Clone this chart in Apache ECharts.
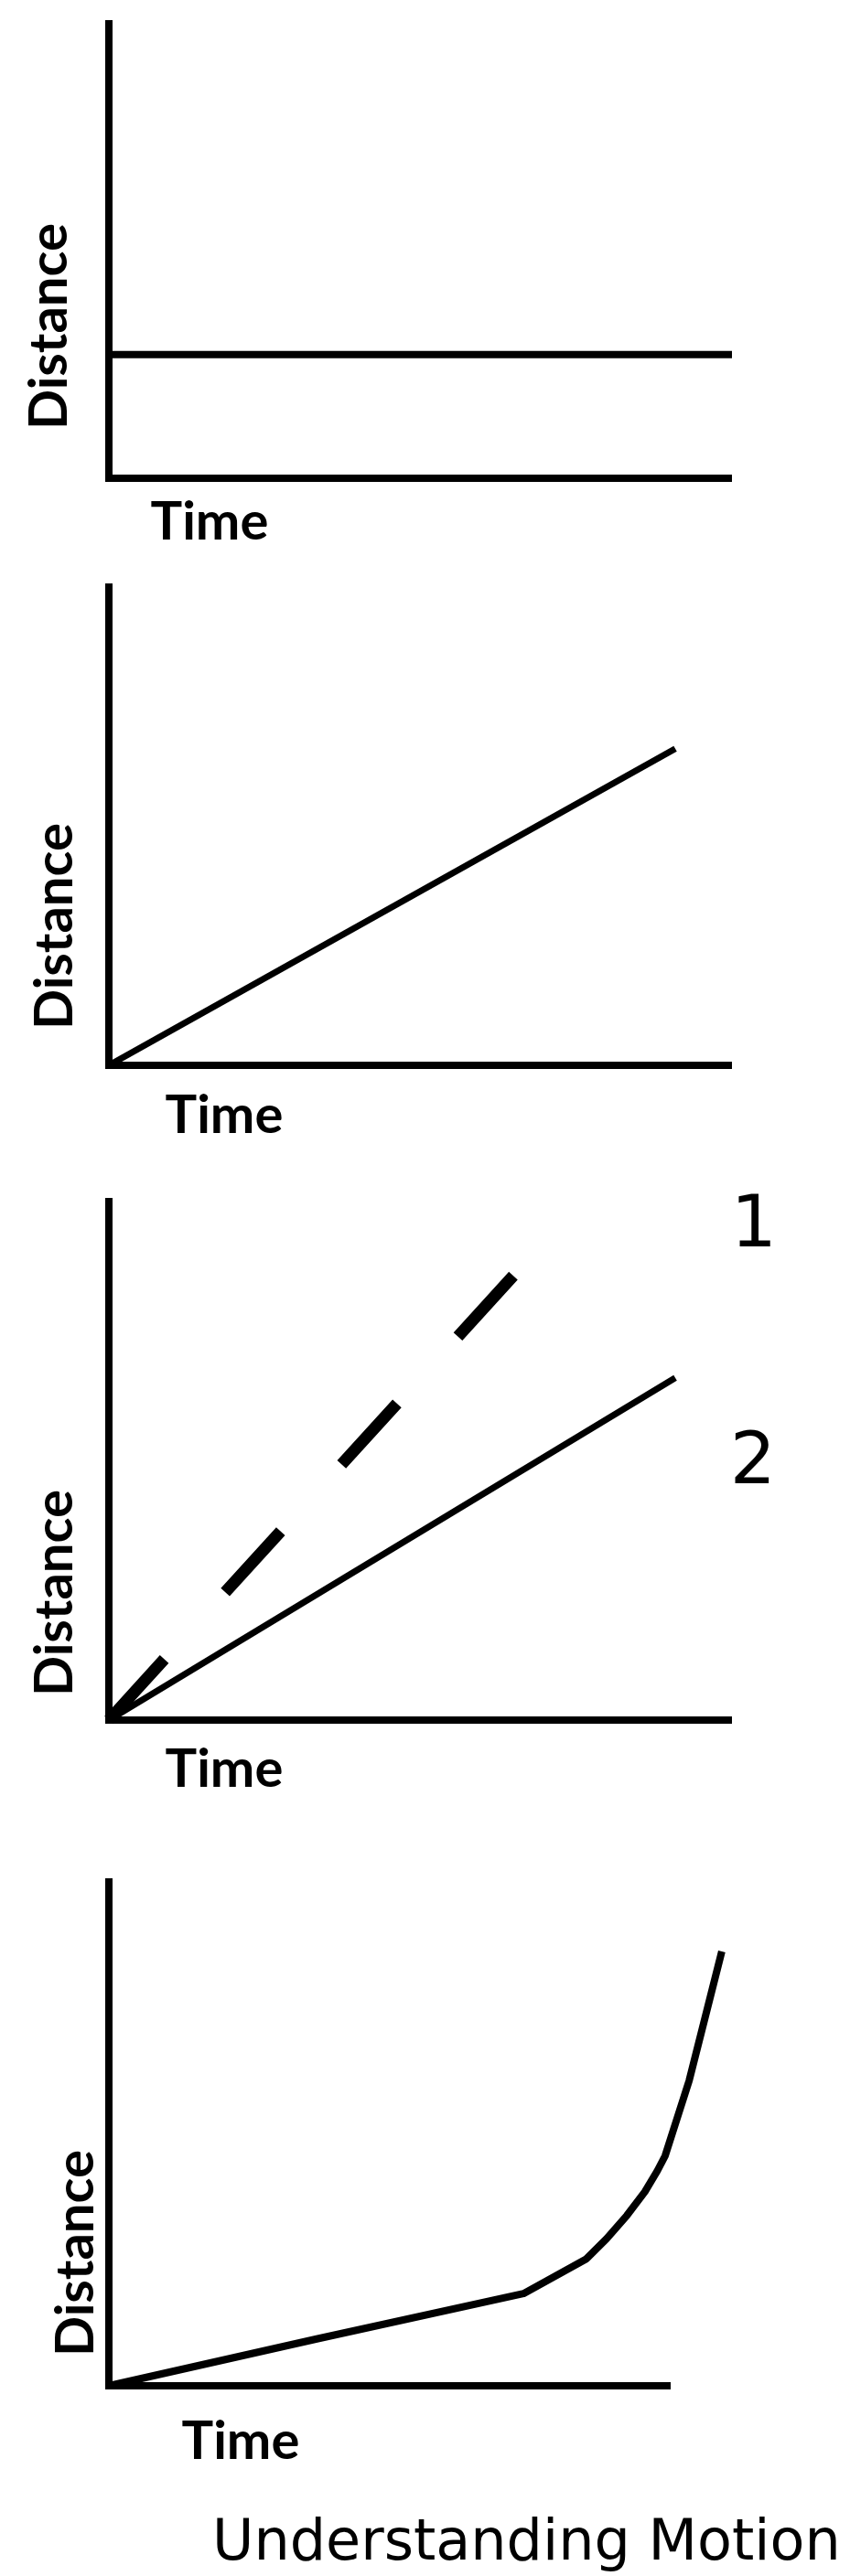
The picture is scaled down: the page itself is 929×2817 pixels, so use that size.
<!DOCTYPE html>
<html>
<head>
<meta charset="utf-8">
<script src="https://cdn.jsdelivr.net/npm/echarts@6/dist/echarts.min.js"></script>
<style>
  html, body { margin: 0; padding: 0; background: #ffffff; }
  #chart { width: 929px; height: 2817px; }
</style>
</head>
<body>
<div id="chart"></div>
<script>
// ---- data ----
const xAxisName = 'Time';
const yAxisName = 'Distance';
const chartTitle = 'Understanding Motion';
const lineLabels = ['1', '2'];

// Panel 1: object at rest (constant distance)
const restLine = [[0, 2.72], [10, 2.72]];
// Panel 2: constant speed
const steadyLine = [[0, 0], [9.09, 6.62]];
// Panel 3: two constant speeds (1 = faster, dashed; 2 = slower, solid)
const fastLine = [[0, 0], [6.49, 8.57]];
const slowLine = [[0, 0], [9.09, 6.60]];
// Panel 4: accelerating object (curve runs past the end of the drawn time axis)
const accelCurve = [
  [0, 0], [3.7, 0.93], [7.38, 1.83], [8.50, 2.52], [8.86, 2.92],
  [9.22, 3.38], [9.54, 3.85], [9.76, 4.26], [9.90, 4.56],
  [10.33, 6.06], [10.91, 8.62]
];

// ---- layout ----
const grids = [
  { left: 119, top: 26, width: 681, height: 497 },
  { left: 119, top: 642, width: 681, height: 523 },
  { left: 119, top: 1314, width: 681, height: 567 },
  { left: 119, top: 2058, width: 614, height: 551 },
  // overlay grid for panel 4 curve: same scale (61.4 px per unit), wider range
  { left: 119, top: 2058, width: 675.4, height: 551 }
];
const timeGap = [19, 26, 25, 32];
const timePadRight = [461, 429, 429, 326];
const distGap = [36, 30, 30, 7];
const distPadRight = [165, 219, 289, 261];

const labelFont = { fontFamily: 'Lato', fontWeight: 'bold', fontSize: 58, color: '#000' };

const xAxes = grids.slice(0, 4).map((g, i) => ({
  gridIndex: i, type: 'value', min: 0, max: 10,
  name: xAxisName, nameLocation: 'middle', nameGap: timeGap[i],
  nameTextStyle: Object.assign({}, labelFont, { padding: [0, timePadRight[i], 0, 0], verticalAlign: 'top' }),
  axisLine: { show: true, onZero: false, lineStyle: { color: '#000', width: 8, cap: 'butt' } },
  axisTick: { show: false }, axisLabel: { show: false }, splitLine: { show: false }
}));
xAxes.push({
  gridIndex: 4, type: 'value', min: 0, max: 11, show: false
});
const yAxes = grids.slice(0, 4).map((g, i) => ({
  gridIndex: i, type: 'value', min: 0, max: 10,
  name: yAxisName, nameLocation: 'middle', nameGap: distGap[i], nameRotate: 90,
  nameTextStyle: Object.assign({}, labelFont, { padding: [0, distPadRight[i], 0, 0] }),
  axisLine: { show: true, onZero: false, lineStyle: { color: '#000', width: 8, cap: 'square' } },
  axisTick: { show: false }, axisLabel: { show: false }, splitLine: { show: false }
}));
yAxes.push({
  gridIndex: 4, type: 'value', min: 0, max: 10, show: false
});

function lineSeries(idx, data, style) {
  return {
    type: 'line', xAxisIndex: idx, yAxisIndex: idx, data: data,
    symbol: 'none', clip: false, animation: false, silent: true,
    lineStyle: Object.assign({ color: '#000', width: 7, cap: 'butt', join: 'round' }, style)
  };
}

const chart = echarts.init(document.getElementById('chart'), null, { renderer: 'canvas' });
chart.setOption({
  backgroundColor: '#ffffff',
  animation: false,
  title: {
    text: chartTitle, left: 232, top: 2752, padding: 0,
    textStyle: { fontFamily: 'DejaVu Sans', fontWeight: 'normal', fontSize: 62, color: '#000', lineHeight: 62 }
  },
  grid: grids,
  xAxis: xAxes,
  yAxis: yAxes,
  series: [
    lineSeries(0, restLine, { width: 8 }),
    lineSeries(1, steadyLine, { width: 7 }),
    lineSeries(2, fastLine, { width: 13, type: [90, 99] }),
    lineSeries(2, slowLine, { width: 7 }),
    lineSeries(4, accelCurve, { width: 8 })
  ],
  graphic: [
    { type: 'text', x: 824, y: 1342, style: { text: lineLabels[0], fontFamily: 'DejaVu Sans', fontSize: 79, fill: '#000', align: 'center', verticalAlign: 'middle' } },
    { type: 'text', x: 823, y: 1601, style: { text: lineLabels[1], fontFamily: 'DejaVu Sans', fontSize: 79, fill: '#000', align: 'center', verticalAlign: 'middle' } }
  ]
});
</script>
</body>
</html>
